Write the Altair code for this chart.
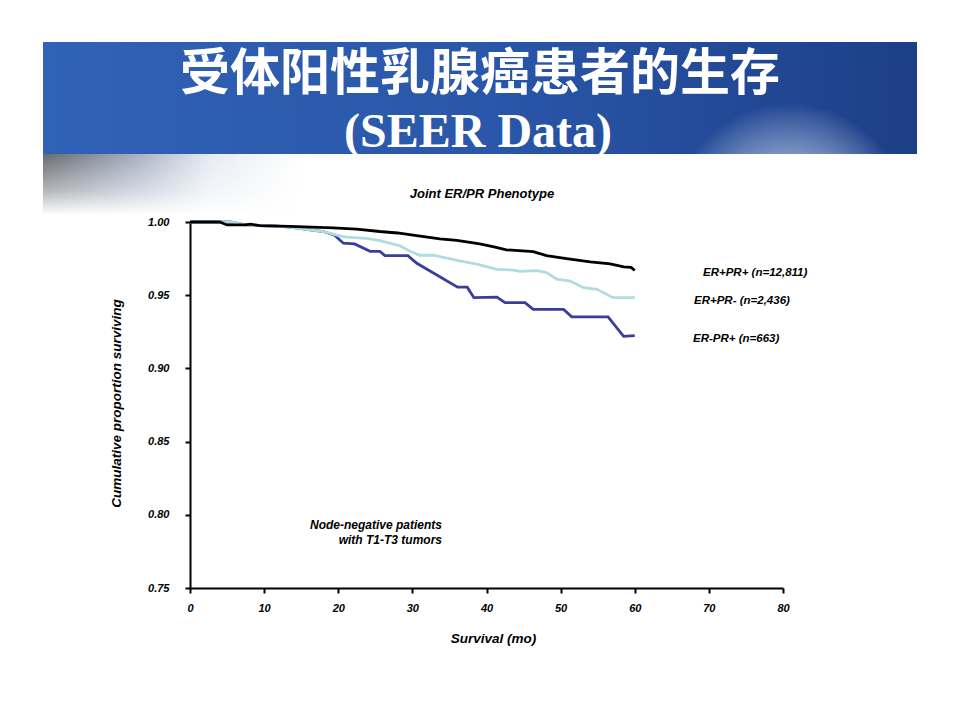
import altair as alt
import pandas as pd

# ---------------- data ----------------
groups = ["ER+PR+", "ER+PR-", "ER-PR+"]
labels = ["ER+PR+ (n=12,811)", "ER+PR- (n=2,436)", "ER-PR+ (n=663)"]
colors = ["#000000", "#b0dce0", "#3b3d9c"]

m_pp = [0, 4.0, 5.0, 7.4, 8.2, 9.4, 13.5, 19.3, 22.5, 25.6, 28.0, 30.1, 33.7, 36.0,
        39.1, 41.0, 42.7, 46.3, 48.1, 50.8, 54.0, 56.7, 58.5, 59.5, 60.0]
v_pp = [1.000, 1.000, 0.998, 0.998, 0.9985, 0.9975, 0.997, 0.996, 0.9952, 0.9935, 0.9925,
        0.991, 0.9885, 0.9875, 0.985, 0.983, 0.981, 0.9798, 0.977, 0.975, 0.9727, 0.9714,
        0.9693, 0.969, 0.967]

m_pn = [0, 5.5, 7.4, 9.4, 11.7, 13.5, 15.7, 18.0, 19.8, 21.1, 23.8, 25.6, 28.3, 29.7,
        31.0, 32.8, 36.4, 38.7, 41.4, 43.6, 44.5, 46.8, 48.1, 49.5, 51.3, 53.1, 54.9,
        57.1, 60.0]
v_pn = [1.0, 1.0, 0.998, 0.9975, 0.9972, 0.9965, 0.995, 0.9935, 0.991, 0.9897, 0.9888,
        0.9872, 0.9838, 0.980, 0.9773, 0.9773, 0.9734, 0.9712, 0.9677, 0.9672, 0.9663,
        0.9668, 0.9654, 0.9609, 0.9597, 0.9551, 0.954, 0.9483, 0.9483]

m_np = [0, 5.5, 7.4, 9.4, 11.7, 13.5, 15.7, 18.0, 19.5, 20.7, 22.2, 24.3, 25.6, 26.3,
        29.4, 30.6, 36.1, 37.4, 38.3, 41.4, 42.5, 45.2, 46.3, 50.4, 51.5, 56.4, 58.5, 60.0]
v_np = [1.0, 1.0, 0.998, 0.9975, 0.9972, 0.9965, 0.995, 0.9935, 0.991, 0.9855, 0.985,
        0.980, 0.980, 0.977, 0.977, 0.9718, 0.9555, 0.9555, 0.9483, 0.9487, 0.9449,
        0.9449, 0.9403, 0.9403, 0.9352, 0.9352, 0.9219, 0.9224]

x_ticks = [0, 10, 20, 30, 40, 50, 60, 70, 80]
y_ticks = [0.75, 0.80, 0.85, 0.90, 0.95, 1.00]

title_cn = "受体阳性乳腺癌患者的生存"
title_en = "(SEER Data)"
subtitle = "Joint ER/PR Phenotype"
note = ["Node-negative patients", "with T1-T3 tumors"]

series = {
    "ER+PR+": (m_pp, v_pp),
    "ER+PR-": (m_pn, v_pn),
    "ER-PR+": (m_np, v_np),
}

FONT = "Liberation Sans, Arial, sans-serif"
W, H = 593, 366

one = pd.DataFrame({"k": [0]})

x_scale = alt.Scale(domain=[0, 80], nice=False, zero=False)
y_scale = alt.Scale(domain=[0.75, 1.0], nice=False, zero=False)

x_axis = alt.Axis(values=x_ticks, title="Survival (mo)", grid=False, domainColor="black",
                  domainWidth=2, tickColor="black", tickWidth=2, tickSize=5,
                  labelFont=FONT, labelFontSize=11, labelFontStyle="italic",
                  labelFontWeight="bold", labelColor="black", labelPadding=9,
                  labelFlush=False, labelOverlap=False,
                  titleFont=FONT, titleFontSize=13.5, titleFontStyle="italic",
                  titleFontWeight="bold", titleColor="black", titleX=303, titleY=50,
                  titleBaseline="middle", titleAlign="center")
y_axis = alt.Axis(values=y_ticks, format=".2f", title="Cumulative proportion surviving",
                  grid=False, domainColor="black", domainWidth=2, tickColor="black",
                  tickWidth=2, tickSize=5, labelFont=FONT, labelFontSize=11,
                  labelFontStyle="italic", labelFontWeight="bold", labelColor="black",
                  labelPadding=16, labelFlush=False, labelOverlap=False,
                  titleFont=FONT, titleFontSize=13.5, titleFontStyle="italic",
                  titleFontWeight="bold", titleColor="black", titleAngle=270,
                  titleX=-74, titleY=181, titleBaseline="middle", titleAlign="center")

# ---------------- decorative banner ----------------
banner = alt.Chart(one).mark_rect(
    fill=alt.LinearGradient(gradient="linear", x1=0, y1=0, x2=1, y2=0,
                            stops=[alt.GradientStop(color="#3062b5", offset=0),
                                   alt.GradientStop(color="#2a57aa", offset=0.5),
                                   alt.GradientStop(color="#1d3f88", offset=1)])
).encode(x=alt.value(-147), x2=alt.value(727), y=alt.value(-180), y2=alt.value(-68))

glow = alt.Chart(one).mark_rect(
    fill=alt.RadialGradient(gradient="radial", x1=0.5, y1=1, r1=0, x2=0.5, y2=1, r2=0.5,
                            stops=[alt.GradientStop(color="rgba(255,255,255,1)", offset=0),
                                   alt.GradientStop(color="rgba(215,230,252,0.6)", offset=0.45),
                                   alt.GradientStop(color="rgba(255,255,255,0)", offset=1)])
).encode(x=alt.value(480), x2=alt.value(720), y=alt.value(-170), y2=alt.value(-68))

band = alt.Chart(one).mark_rect(
    fill=alt.LinearGradient(gradient="linear", x1=0, y1=0, x2=1, y2=0,
                            stops=[alt.GradientStop(color="#676a70", offset=0),
                                   alt.GradientStop(color="#a3adc0", offset=0.35),
                                   alt.GradientStop(color="#e6ebf2", offset=0.65),
                                   alt.GradientStop(color="#ffffff", offset=1)])
).encode(x=alt.value(-147), x2=alt.value(110), y=alt.value(-68), y2=alt.value(-8))

band_fade = alt.Chart(one).mark_rect(
    fill=alt.LinearGradient(gradient="linear", x1=0, y1=0, x2=0, y2=1,
                            stops=[alt.GradientStop(color="rgba(255,255,255,0)", offset=0),
                                   alt.GradientStop(color="rgba(255,255,255,0.5)", offset=0.6),
                                   alt.GradientStop(color="#ffffff", offset=1)])
).encode(x=alt.value(-147), x2=alt.value(110), y=alt.value(-68), y2=alt.value(-7))

t_cn = alt.Chart(one).mark_text(
    text=title_cn, font="Noto Sans CJK SC", fontSize=50, fontWeight="bold",
    color="white", align="center", baseline="middle"
).encode(x=alt.value(290), y=alt.value(-147))

t_en = alt.Chart(one).mark_text(
    text=title_en, font="Liberation Serif, Times New Roman, serif", fontSize=48,
    fontWeight="bold", color="white", align="center", baseline="middle"
).encode(x=alt.value(288), y=alt.value(-89))

t_sub = alt.Chart(one).mark_text(
    text=subtitle, font=FONT, fontSize=13, fontWeight="bold", fontStyle="italic",
    color="black", align="center", baseline="middle"
).encode(x=alt.value(292), y=alt.value(-28))

t_note = alt.Chart(one).mark_text(
    text=note, font=FONT, fontSize=12, fontWeight="bold", fontStyle="italic",
    color="black", align="right", baseline="middle", lineHeight=15
).encode(x=alt.value(252), y=alt.value(303))

# ---------------- survival curves ----------------
layers = []
order = ["ER-PR+", "ER+PR-", "ER+PR+"]
for g in order:
    m, v = series[g]
    df = pd.DataFrame({"month": m, "surv": v, "group": g})
    col = colors[groups.index(g)]
    layers.append(
        alt.Chart(df).mark_line(color=col, strokeWidth=2.8, strokeJoin="miter").encode(
            x=alt.X("month:Q", scale=x_scale, axis=x_axis),
            y=alt.Y("surv:Q", scale=y_scale, axis=y_axis),
        )
    )

# end-of-curve labels
label_x = {"ER+PR+": 513, "ER+PR-": 504, "ER-PR+": 503}
for g, lab in zip(groups, labels):
    m, v = series[g]
    ldf = pd.DataFrame({"surv": [v[-1]], "label": [lab]})
    layers.append(
        alt.Chart(ldf).mark_text(font=FONT, fontSize=11.5, fontWeight="bold",
                                 fontStyle="italic", color="black", align="left",
                                 baseline="middle", dy=3).encode(
            x=alt.value(label_x[g]),
            y=alt.Y("surv:Q", scale=y_scale, axis=y_axis),
            text="label:N",
        )
    )

chart = alt.layer(
    banner, glow, band, band_fade, t_cn, t_en, t_sub, t_note, *layers
).properties(
    width=W, height=H,
    autosize=alt.AutoSizeParams(type="none"),
    padding={"left": 182, "top": 214, "right": 169, "bottom": 124},
    background="white",
).configure_view(stroke=None)

chart.save("out.html", embed_options={"renderer": "svg", "actions": False})
